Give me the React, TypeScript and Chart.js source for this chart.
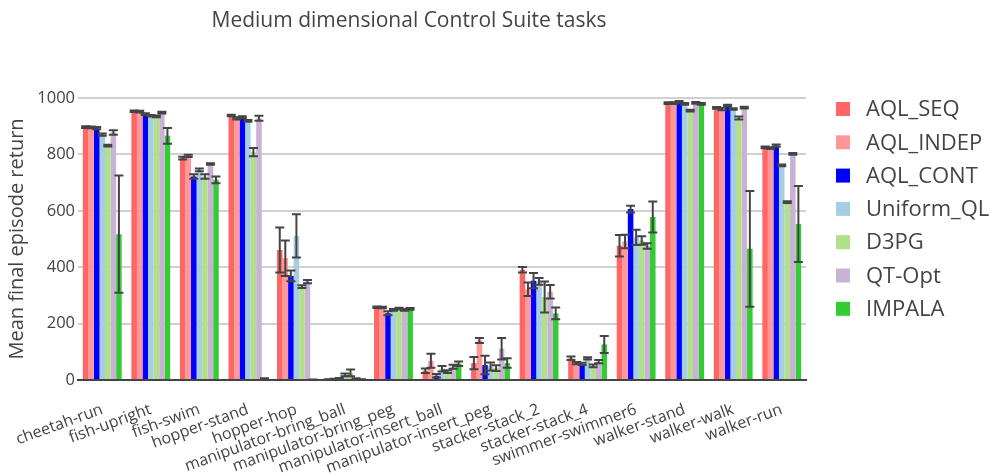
import React, { useEffect, useRef } from 'react';
import { Chart, registerables } from 'chart.js';
Chart.register(...registerables);

const categories = [
  'cheetah-run', 'fish-upright', 'fish-swim', 'hopper-stand', 'hopper-hop',
  'manipulator-bring_ball', 'manipulator-bring_peg', 'manipulator-insert_ball',
  'manipulator-insert_peg', 'stacker-stack_2', 'stacker-stack_4', 'swimmer-swimmer6',
  'walker-stand', 'walker-walk', 'walker-run',
];

const seriesNames = ['AQL_SEQ', 'AQL_INDEP', 'AQL_CONT', 'Uniform_QL', 'D3PG', 'QT-Opt', 'IMPALA'];
const seriesColors = ['#ff6666', '#ff9999', '#0000ff', '#a6cee3', '#b2df8a', '#cab2d6', '#33cc33'];

const aqlSeq = [897, 953, 787, 938, 461, 2, 258, 33, 60, 391, 77, 476, 982, 965, 825];
const aqlSeqErr = [3, 3, 5, 3, 80, 1, 3, 8, 22, 10, 6, 38, 3, 3, 3];
const aqlIndep = [896, 952, 795, 928, 432, 3, 257, 68, 140, 322, 60, 491, 982, 961, 822];
const aqlIndepErr = [3, 3, 4, 4, 63, 1, 3, 25, 9, 24, 4, 24, 3, 4, 3];
const aqlCont = [893, 943, 722, 932, 369, 5, 237, 15, 53, 352, 57, 606, 986, 973, 831];
const aqlContErr = [4, 3, 8, 3, 19, 2, 7, 6, 33, 27, 4, 12, 3, 3, 4];
const uniformQl = [870, 937, 745, 919, 511, 18, 249, 40, 48, 350, 77, 506, 979, 961, 761];
const uniformQlErr = [4, 3, 5, 3, 77, 5, 3, 10, 14, 12, 4, 27, 3, 3, 3];
const d3pg = [831, 935, 722, 808, 331, 25, 253, 30, 42, 294, 50, 495, 955, 929, 631];
const d3pgErr = [3, 3, 8, 15, 5, 12, 3, 5, 10, 55, 5, 15, 3, 5, 3];
const qtOpt = [878, 948, 766, 928, 349, 4, 249, 47, 111, 313, 65, 475, 983, 966, 802];
const qtOptErr = [8, 3, 3, 9, 6, 2, 3, 7, 38, 24, 6, 10, 3, 3, 3];
const impala = [517, 866, 710, 4, 1, 2, 252, 58, 60, 236, 126, 578, 979, 465, 553];
const impalaErr = [208, 28, 12, 2, 1, 1, 3, 8, 17, 21, 30, 55, 3, 205, 135];

const yTicks = [0, 200, 400, 600, 800, 1000];

const seriesValues = [aqlSeq, aqlIndep, aqlCont, uniformQl, d3pg, qtOpt, impala];
const seriesErrors = [aqlSeqErr, aqlIndepErr, aqlContErr, uniformQlErr, d3pgErr, qtOptErr, impalaErr];

const FONT = '"Open Sans", "DejaVu Sans", sans-serif';
const TEXT = '#444';

const errorBarPlugin = {
  id: 'errorBars',
  afterDatasetsDraw(chart: any) {
    const ctx = chart.ctx;
    const y = chart.scales.y;
    const area = chart.chartArea;
    ctx.save();
    ctx.beginPath();
    ctx.rect(area.left, area.top - 20, area.right - area.left, area.bottom - area.top + 20);
    ctx.clip();
    ctx.strokeStyle = '#444';
    ctx.lineWidth = 2;
    chart.data.datasets.forEach((ds: any, di: number) => {
      const meta = chart.getDatasetMeta(di);
      const errs = seriesErrors[di];
      meta.data.forEach((bar: any, i: number) => {
        const v = ds.data[i];
        const e = errs[i];
        const x = bar.x;
        const yt = y.getPixelForValue(v + e);
        const yb = y.getPixelForValue(Math.max(0, v - e));
        const hw = 4.5;
        ctx.beginPath();
        ctx.moveTo(x, yt);
        ctx.lineTo(x, yb);
        ctx.moveTo(x - hw, yt);
        ctx.lineTo(x + hw, yt);
        ctx.moveTo(x - hw, yb);
        ctx.lineTo(x + hw, yb);
        ctx.stroke();
      });
    });
    ctx.restore();
  },
};

const decorPlugin = {
  id: 'decor',
  afterDraw(chart: any) {
    const ctx = chart.ctx;
    ctx.save();
    ctx.fillStyle = TEXT;
    ctx.font = `21px ${FONT}`;
    ctx.textAlign = 'center';
    ctx.textBaseline = 'middle';
    ctx.fillText('Medium dimensional Control Suite tasks', 409, 21);
    ctx.font = `22px ${FONT}`;
    ctx.textAlign = 'left';
    seriesNames.forEach((name, i) => {
      const cy = 109 + i * 33.3;
      ctx.fillStyle = seriesColors[i];
      ctx.fillRect(836, cy - 7, 14, 14);
      ctx.fillStyle = TEXT;
      ctx.fillText(name, 866, cy + 1);
    });
    ctx.restore();
  },
};

export default function App() {
  const ref = useRef<HTMLCanvasElement>(null);
  useEffect(() => {
    const chart = new Chart(ref.current!, {
      type: 'bar',
      data: {
        labels: categories,
        datasets: seriesNames.map((name, i) => ({
          label: name,
          data: seriesValues[i],
          backgroundColor: seriesColors[i],
          borderWidth: 0,
          categoryPercentage: 0.8,
          barPercentage: 1.0,
        })),
      },
      options: {
        responsive: false,
        animation: false,
        layout: { padding: { left: 0, right: 192, top: 98, bottom: 0 } },
        plugins: {
          legend: { display: false },
          title: { display: false },
          tooltip: { enabled: false },
        },
        scales: {
          x: {
            grid: { display: false },
            border: { display: true, color: '#444', width: 2 },
            ticks: {
              autoSkip: false,
              maxRotation: 20,
              minRotation: 20,
              color: TEXT,
              font: { family: FONT, size: 16 },
              padding: 12,
            },
            afterFit: (s: any) => { s.height = 95; },
          },
          y: {
            min: 0,
            max: 1000,
            afterBuildTicks: (s: any) => { s.ticks = yTicks.map((v) => ({ value: v })); },
            grid: {
              color: (c: any) => (c.tick && c.tick.value === 0 ? '#444' : '#d0d0d0'),
              lineWidth: 2,
              drawTicks: false,
            },
            border: { display: false },
            ticks: {
              color: TEXT,
              font: { family: FONT, size: 16.5 },
              padding: 3,
              callback: (v: any) => String(v),
            },
            title: {
              display: true,
              text: 'Mean final episode return',
              color: TEXT,
              font: { family: FONT, size: 20 },
              padding: { top: 5, bottom: 0 },
            },
            afterFit: (s: any) => { s.width = 78; },
          },
        },
      },
      plugins: [errorBarPlugin, decorPlugin],
    });
    return () => chart.destroy();
  }, []);
  return (
    <div style={{ position: 'absolute', left: 0, top: 0, width: 998, height: 475, background: '#fff' }}>
      <canvas ref={ref} width={998} height={475} style={{ display: 'block' }} />
    </div>
  );
}
